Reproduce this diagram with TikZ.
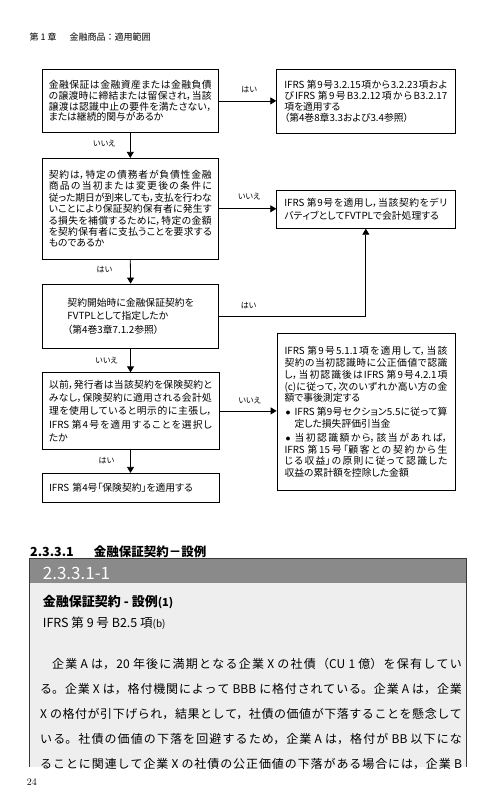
\documentclass[tikz,border=0pt]{standalone}
\usepackage{fontspec}
\usetikzlibrary{arrows.meta}
\newfontfamily\jp{Noto Sans CJK JP}
\newfontfamily\jpp{Noto Sans CJK JP}[RawFeature=+palt]
\XeTeXlinebreaklocale "ja"
\XeTeXlinebreakskip=0pt plus 3pt minus 1pt
\tolerance=9999
\hbadness=10000
\hfuzz=20pt
\definecolor{bandgray}{HTML}{8A8A8A}
\definecolor{bodygray}{HTML}{EEEEEE}
\definecolor{edgegray}{HTML}{3A3A3A}
\tikzset{
  fbox/.style={draw, line width=0.8pt, minimum width=176pt, text width=163pt,
    inner xsep=6.5pt, inner ysep=2pt, align=justify},
  lab/.style={font=\jpp\fontsize{8}{9}\selectfont, inner sep=0pt},
  arr/.style={line width=0.8pt, -{Triangle[width=7pt,length=6pt]}},
  plain/.style={anchor=west, inner sep=0pt},
}
\begin{document}
\begin{tikzpicture}[x=1pt,y=-1pt]
\useasboundingbox (0,0) rectangle (497,812);

% page header
\node[plain, font=\jp\fontsize{9}{10}\selectfont] (hdr) at (29.3,36.7) {第 1 章\hspace{13pt}金融商品：適用範囲};

% left column
\node[fbox, minimum height=63.7pt, font=\jpp\fontsize{9.8}{10.9}\selectfont] (b1) at (130.3,100.9) {\noindent 金融保証は金融資産または金融負債\linebreak の譲渡時に締結または留保され，当該\linebreak 譲渡は認識中止の要件を満たさない，\linebreak または継続的関与があるか};

\node[fbox, minimum height=101pt, font=\jpp\fontsize{9.8}{11.4}\selectfont] (b2) at (130.3,208.8) {\noindent 契約は，特定の債務者が負債性金融\linebreak 商品の当初または変更後の条件に\linebreak 従った期日が到来しても，支払を行わな\linebreak いことにより保証契約保有者に発生す\linebreak る損失を補償するために，特定の金額\linebreak を契約保有者に支払うことを要求する\linebreak ものであるか};

\node[draw, line width=0.8pt, minimum width=176.5pt, minimum height=64pt, align=left, font=\jpp\fontsize{9.8}{13.5}\selectfont] (b3) at (130.6,316) {契約開始時に金融保証契約を\\FVTPLとして指定したか\\（第4巻3章7.1.2参照）};

\node[fbox, minimum width=177pt, minimum height=76.3pt, font=\jpp\fontsize{9.8}{13.3}\selectfont] (b4) at (130.5,410.9) {\noindent 以前，発行者は当該契約を保険契約と\linebreak みなし，保険契約に適用される会計処\linebreak 理を使用していると明示的に主張し，\linebreak IFRS 第4号を適用することを選択し\linebreak たか};

\node[fbox, minimum width=177pt, minimum height=29pt, align=left, font=\jpp\fontsize{9.8}{11}\selectfont] (b5) at (130.5,487.8) {IFRS 第4号「保険契約」を適用する};

% right column
\node[fbox, minimum width=178.3pt, minimum height=64.3pt, font=\jpp\fontsize{9.8}{11.1}\selectfont] (r1) at (365.85,101.15) {\noindent IFRS 第9号3.2.15項から3.2.23項およ\linebreak びIFRS 第9号B3.2.12項からB3.2.17\linebreak 項を適用する\\（第4巻8章3.3および3.4参照）};

\node[fbox, minimum width=178.3pt, minimum height=38.3pt, font=\jpp\fontsize{9.8}{12.7}\selectfont] (r2) at (365.85,209.15) {\noindent IFRS 第9号を適用し，当該契約をデリ\linebreak バティブとしてFVTPLで会計処理する};

\node[fbox, minimum width=178pt, minimum height=157.4pt, font=\jpp\fontsize{9.8}{11.7}\selectfont] (r3) at (366,412) {\noindent IFRS 第9号5.1.1項を適用して，当該\linebreak 契約の当初認識時に公正価値で認識\linebreak し，当初認識後はIFRS 第9号4.2.1項\linebreak (c)に従って，次のいずれか高い方の金\linebreak 額で事後測定する\par\vspace{2pt}\hangindent=10pt\hangafter=1\noindent\makebox[10pt][l]{\kern1pt$\bullet$}IFRS 第9号セクション5.5に従って算\linebreak 定した損失評価引当金\par\vspace{2.5pt}\hangindent=10pt\hangafter=1\noindent\makebox[10pt][l]{\kern1pt$\bullet$}当初認識額から，該当があれば，\linebreak IFRS 第15号「顧客との契約から生\linebreak じる収益」の原則に従って認識した\linebreak 収益の累計額を控除した金額};

% connectors
\draw[arr] (b1.east) -- (b1.east -| r1.west) node[lab, pos=0.53, yshift=11.5pt] {はい};
\draw[arr] (b1.south) -- (b2.north) node[lab, midway, xshift=-26pt, yshift=2pt] {いいえ};
\draw[arr] (b2.east) -- (b2.east -| r2.west) node[lab, pos=0.53, yshift=12pt] {いいえ};
\draw[arr] (b2.south) -- (b3.north) node[lab, midway, xshift=-26pt, yshift=2pt] {はい};
\draw[arr] (b3.east) -| (r2.south) node[lab, pos=0.1, yshift=10.7pt] {はい};
\draw[arr] (b3.south) -- (b4.north) node[lab, midway, xshift=-24pt] {いいえ};
\draw[arr] (b4.east) -- (b4.east -| r3.west) node[lab, pos=0.53, yshift=10pt] {いいえ};
\draw[arr] (b4.south) -- (b5.north) node[lab, midway, xshift=-24pt, yshift=1pt] {はい};

% example section
\node[plain, font=\jp\bfseries\fontsize{12.5}{14}\selectfont] (sec) at (30,551.7) {2.3.3.1\hspace{20pt}金融保証契約－設例};

\fill[bandgray] (29.3,558.3) rectangle (466.7,583.3);
\fill[bodygray] (29.3,583.3) rectangle (466.7,767);
\draw[edgegray, line width=0.8pt] (29.3,767) -- (29.3,558.3) -- (466.7,558.3) -- (466.7,767);

\node[plain, text=white, font=\jp\fontsize{17}{20}\selectfont] (exno) at (42.7,573.3) {2.3.3.1-1};
\node[plain, font=\jp\bfseries\fontsize{13}{15}\selectfont] (extitle) at (42.7,601.7) {金融保証契約 - 設例{\fontsize{11}{12}\selectfont(1)}};
\node[plain, font=\jp\fontsize{12.5}{15}\selectfont] (exref) at (42.7,623) {IFRS 第 9 号 B2.5 項{\fontsize{10}{12}\selectfont(b)}};

\node[anchor=north west, inner sep=0pt, text width=421.7pt, align=justify, font=\jp\fontsize{12}{25}\selectfont] (para) at (40,657.9) {\parfillskip=0pt\noindent\hspace*{12pt}企業 A は，20 年後に満期となる企業 X の社債（CU 1 億）を保有してい\linebreak る。企業 X は，格付機関によって BBB に格付されている。企業 A は，企業\linebreak X の格付が引下げられ，結果として，社債の価値が下落することを懸念して\linebreak いる。社債の価値の下落を回避するため，企業 A は，格付が BB 以下にな\linebreak ることに関連して企業 X の社債の公正価値の下落がある場合には，企業 B\par};

\node[plain, font=\fontsize{10}{12}\selectfont] (pg) at (26.7,781.7) {24};
\end{tikzpicture}
\end{document}
